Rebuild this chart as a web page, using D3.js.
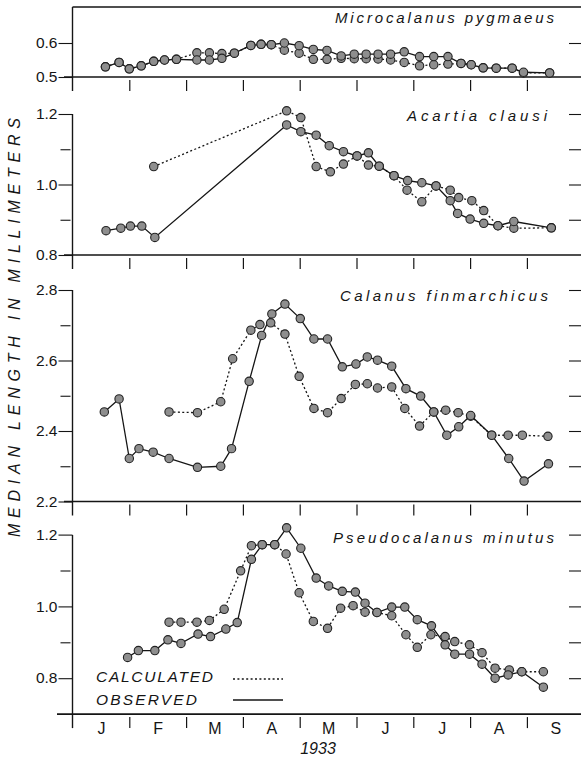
<!DOCTYPE html>
<html><head><meta charset="utf-8">
<script src="https://cdn.jsdelivr.net/npm/d3@7"></script>
<style>body{margin:0;background:#fff}svg{display:block}</style>
</head><body>
<svg id="c" width="581" height="758"></svg>
<script>
// ---- data (x = months since 1 Jan 1933, y = median length mm) ----
const monthLabels = ["J","F","M","A","M","J","J","A","S"];
const monthBoundaries = [1,2,3,4,5,6,7,8];
const yearLabel = "1933";
const yTitle = "MEDIAN LENGTH IN MILLIMETERS";
const legendLabels = ["CALCULATED","OBSERVED"];
const speciesNames = ["Microcalanus pygmaeus","Acartia clausi","Calanus finmarchicus","Pseudocalanus minutus"];

const microObs = [[0.58,0.530],[0.82,0.543],[1.0,0.524],[1.21,0.533],[1.43,0.546],[1.62,0.550],[1.83,0.552],[2.19,0.550],[2.41,0.550],[2.63,0.555],[2.85,0.570],[3.14,0.593],[3.32,0.596],[3.50,0.595],[3.73,0.600],[3.99,0.592],[4.24,0.581],[4.48,0.578],[4.73,0.562],[4.96,0.567],[5.17,0.567],[5.38,0.567],[5.60,0.567],[5.84,0.574],[6.11,0.560],[6.36,0.560],[6.61,0.560],[6.84,0.540],[7.02,0.536],[7.23,0.527],[7.46,0.526],[7.74,0.526],[7.94,0.514],[8.40,0.512]];
const microCalc = [[0.58,0.530],[0.82,0.543],[1.0,0.524],[1.21,0.533],[1.43,0.546],[1.62,0.550],[1.83,0.552],[2.19,0.571],[2.41,0.571],[2.63,0.569],[2.85,0.570],[3.14,0.593],[3.32,0.596],[3.50,0.595],[3.73,0.579],[3.99,0.570],[4.24,0.552],[4.48,0.552],[4.73,0.555],[4.96,0.554],[5.17,0.554],[5.38,0.553],[5.60,0.550],[5.84,0.543],[6.11,0.533],[6.36,0.536],[6.61,0.538],[6.84,0.540],[7.02,0.536],[7.23,0.527],[7.46,0.526],[7.74,0.526],[7.94,0.512],[8.40,0.512]];

const acartiaObs = [[0.59,0.869],[0.85,0.876],[1.02,0.882],[1.22,0.882],[1.45,0.850],[3.77,1.169],[4.02,1.150],[4.29,1.140],[4.52,1.110],[4.77,1.093],[5.01,1.081],[5.21,1.090],[5.40,1.052],[5.66,1.025],[5.90,1.011],[6.15,1.005],[6.40,0.996],[6.65,0.954],[6.78,0.918],[7.00,0.902],[7.24,0.890],[7.49,0.883],[7.77,0.895],[8.43,0.877]];
const acartiaCalc = [[1.43,1.051],[3.77,1.209],[4.02,1.190],[4.29,1.051],[4.54,1.036],[4.77,1.058],[5.01,1.081],[5.21,1.055],[5.40,1.052],[5.66,1.025],[5.89,0.984],[6.15,0.951],[6.40,0.996],[6.65,0.984],[6.80,0.963],[7.03,0.954],[7.24,0.926],[7.49,0.883],[7.77,0.876],[8.43,0.877]];

const calanusObs = [[0.56,2.454],[0.82,2.491],[1.00,2.322],[1.17,2.350],[1.42,2.340],[1.70,2.322],[2.20,2.297],[2.61,2.300],[2.80,2.350],[3.11,2.541],[3.33,2.671],[3.51,2.732],[3.74,2.760],[4.01,2.719],[4.25,2.661],[4.49,2.661],[4.75,2.582],[4.99,2.590],[5.19,2.610],[5.37,2.601],[5.62,2.584],[5.87,2.520],[6.13,2.499],[6.36,2.454],[6.59,2.388],[6.80,2.412],[7.01,2.444],[7.38,2.388],[7.68,2.322],[7.95,2.258],[8.38,2.307]];
const calanusCalc = [[1.70,2.454],[2.20,2.452],[2.61,2.483],[2.82,2.605],[3.14,2.686],[3.30,2.702],[3.49,2.707],[3.74,2.675],[3.99,2.555],[4.25,2.464],[4.49,2.452],[4.73,2.492],[4.98,2.532],[5.19,2.534],[5.37,2.522],[5.62,2.525],[5.85,2.464],[6.11,2.414],[6.36,2.454],[6.57,2.459],[6.79,2.452],[7.01,2.442],[7.38,2.388],[7.67,2.388],[7.92,2.388],[8.37,2.385]];

const pseudoObs = [[0.97,0.858],[1.16,0.877],[1.45,0.877],[1.68,0.907],[1.91,0.897],[2.21,0.923],[2.43,0.916],[2.70,0.937],[2.90,0.955],[3.15,1.131],[3.34,1.172],[3.56,1.172],[3.77,1.219],[4.02,1.162],[4.29,1.079],[4.51,1.057],[4.75,1.042],[4.98,1.040],[5.15,1.009],[5.36,0.983],[5.62,0.998],[5.85,0.998],[6.07,0.963],[6.32,0.946],[6.56,0.893],[6.73,0.867],[6.99,0.867],[7.21,0.839],[7.44,0.800],[7.67,0.809],[7.91,0.818],[8.29,0.775]];
const pseudoCalc = [[1.70,0.956],[1.91,0.956],[2.19,0.956],[2.41,0.961],[2.67,0.992],[2.96,1.099],[3.15,1.169],[3.34,1.172],[3.56,1.172],[3.76,1.146],[3.99,1.038],[4.24,0.958],[4.49,0.939],[4.72,0.995],[4.94,1.002],[5.15,0.984],[5.36,0.983],[5.62,0.974],[5.87,0.921],[6.07,0.886],[6.31,0.921],[6.56,0.916],[6.73,0.902],[6.99,0.893],[7.21,0.871],[7.44,0.828],[7.69,0.823],[7.91,0.818],[8.29,0.818]];

const microMajor=[0.5,0.6], microMinor=[], microRight=[0.6];
const acartiaMajor=[0.8,1.0,1.2], acartiaMinor=[0.9,1.1], acartiaRight=[0.9,1.0,1.1,1.2];
const calanusMajor=[2.2,2.4,2.6,2.8], calanusMinor=[2.3,2.5,2.7], calanusRight=[2.3,2.4,2.5,2.6,2.7,2.8];
const pseudoMajor=[0.8,1.0,1.2], pseudoMinor=[0.9,1.1], pseudoRight=[0.8,0.9,1.0,1.1,1.2];

// ---- layout ----
const FONT = "'Liberation Sans', Arial, sans-serif";
const svg = d3.select("#c");
const XL = 72.5, XR = 581;
const x = d3.scaleLinear().domain([0,9]).range([XL, XL+9*56.8]);

const panels = [
  {name:speciesNames[0], obs:microObs, calc:microCalc, dom:[0.5,0.6], rng:[77,43], base:0.5, top:7, major:microMajor, minor:microMinor, right:microRight, tx:335, ty:23, tl:219},
  {name:speciesNames[1], obs:acartiaObs, calc:acartiaCalc, dom:[0.8,1.2], rng:[255,114], base:0.8, top:114, major:acartiaMajor, minor:acartiaMinor, right:acartiaRight, tx:407, ty:121, tl:140},
  {name:speciesNames[2], obs:calanusObs, calc:calanusCalc, dom:[2.2,2.8], rng:[501.5,290], base:2.2, top:290, major:calanusMajor, minor:calanusMinor, right:calanusRight, tx:340, ty:301, tl:208},
  {name:speciesNames[3], obs:pseudoObs, calc:pseudoCalc, dom:[0.8,1.2], rng:[678.2,534.6], base:0.7, top:535, major:pseudoMajor, minor:pseudoMinor, right:pseudoRight, tx:333, ty:543, tl:221}
];

const ink = "#151515";

// top border
svg.append("line").attr("x1",XL).attr("x2",XR).attr("y1",7).attr("y2",7)
  .attr("stroke",ink).attr("stroke-width",1.6);

panels.forEach((p,pi)=>{
  const y = d3.scaleLinear().domain(p.dom).range(p.rng);
  const by = y(p.base);
  const g = svg.append("g");
  // baseline
  g.append("line").attr("x1", pi===3?57:64).attr("x2",XR).attr("y1",by).attr("y2",by)
    .attr("stroke",ink).attr("stroke-width",1.6);
  // left axis line
  g.append("line").attr("x1",XL).attr("x2",XL).attr("y1",p.top).attr("y2",by+14)
    .attr("stroke",ink).attr("stroke-width",1.4);
  // major left ticks
  const aMaj = g.append("g").attr("transform",`translate(${XL},0)`)
    .call(d3.axisLeft(y).tickValues(p.major).tickSize(14).tickPadding(1).tickFormat(d3.format(".1f")));
  aMaj.select(".domain").remove();
  aMaj.selectAll("line").attr("stroke",ink).attr("stroke-width",1.1);
  aMaj.selectAll("text").attr("font-family",FONT).attr("font-size",15.5).attr("fill",ink).attr("dy","0.3em");
  // minor left ticks
  if (p.minor.length){
    const aMin = g.append("g").attr("transform",`translate(${XL-2},0)`)
      .call(d3.axisLeft(y).tickValues(p.minor).tickSize(10).tickFormat(""));
    aMin.select(".domain").remove();
    aMin.selectAll("line").attr("stroke",ink).attr("stroke-width",1.1);
  }
  // right ticks
  const aR = g.append("g").attr("transform",`translate(569,0)`)
    .call(d3.axisRight(y).tickValues(p.right).tickSize(12).tickFormat(""));
  aR.select(".domain").remove();
  aR.selectAll("line").attr("stroke",ink).attr("stroke-width",1.1);
  // month ticks hanging below baseline
  const aB = g.append("g").attr("transform",`translate(0,${by+3})`)
    .call(d3.axisBottom(x).tickValues(monthBoundaries).tickSize(11).tickFormat(""));
  aB.select(".domain").remove();
  aB.selectAll("line").attr("stroke",ink).attr("stroke-width",1.2);

  // lines
  const line = d3.line().x(d=>x(d[0])).y(d=>y(d[1]));
  g.append("path").datum(p.calc).attr("d",line).attr("fill","none")
    .attr("stroke",ink).attr("stroke-width",1.3).attr("stroke-dasharray","2,2.4");
  g.append("path").datum(p.obs).attr("d",line).attr("fill","none")
    .attr("stroke",ink).attr("stroke-width",1.3);
  // markers
  const pts = p.calc.concat(p.obs);
  g.selectAll("circle.m").data(pts).enter().append("circle")
    .attr("cx",d=>x(d[0])).attr("cy",d=>y(d[1])).attr("r",4.2)
    .attr("fill","#8e8e8e").attr("stroke","#222").attr("stroke-width",1.1);

  // species title
  g.append("text").attr("x",p.tx).attr("y",p.ty).text(p.name)
    .attr("font-family",FONT).attr("font-style","italic").attr("font-size",15)
    .attr("fill",ink).attr("textLength",p.tl).attr("lengthAdjust","spacing");
});

// bottom month labels
const bottomY = 714;
const aM = svg.append("g").attr("transform",`translate(0,${bottomY})`)
  .call(d3.axisBottom(x).tickValues(d3.range(monthLabels.length).map(i=>i+0.5)).tickSize(0).tickPadding(9)
  .tickFormat((d,i)=>monthLabels[i]));
aM.select(".domain").remove();
aM.selectAll("text").attr("font-family",FONT).attr("font-size",16).attr("fill",ink);

svg.append("text").attr("x",318).attr("y",754).attr("text-anchor","middle").text(yearLabel)
  .attr("font-family",FONT).attr("font-style","italic").attr("font-size",16).attr("fill",ink);

// y title
svg.append("text").attr("transform","translate(20,537) rotate(-90)").attr("x",0).attr("y",0)
  .text(yTitle).attr("font-family",FONT).attr("font-style","italic").attr("font-size",16)
  .attr("fill",ink).attr("textLength",419).attr("lengthAdjust","spacing");

// legend
svg.append("text").attr("x",96).attr("y",682).text(legendLabels[0])
  .attr("font-family",FONT).attr("font-style","italic").attr("font-size",15.5).attr("fill",ink)
  .attr("textLength",117).attr("lengthAdjust","spacing");
svg.append("text").attr("x",96).attr("y",705).text(legendLabels[1])
  .attr("font-family",FONT).attr("font-style","italic").attr("font-size",15.5).attr("fill",ink)
  .attr("textLength",101).attr("lengthAdjust","spacing");
svg.append("line").attr("x1",233).attr("x2",283).attr("y1",679).attr("y2",679)
  .attr("stroke",ink).attr("stroke-width",1.3).attr("stroke-dasharray","2,2.4");
svg.append("line").attr("x1",233).attr("x2",283).attr("y1",700).attr("y2",700)
  .attr("stroke",ink).attr("stroke-width",1.3);
</script>
</body></html>
